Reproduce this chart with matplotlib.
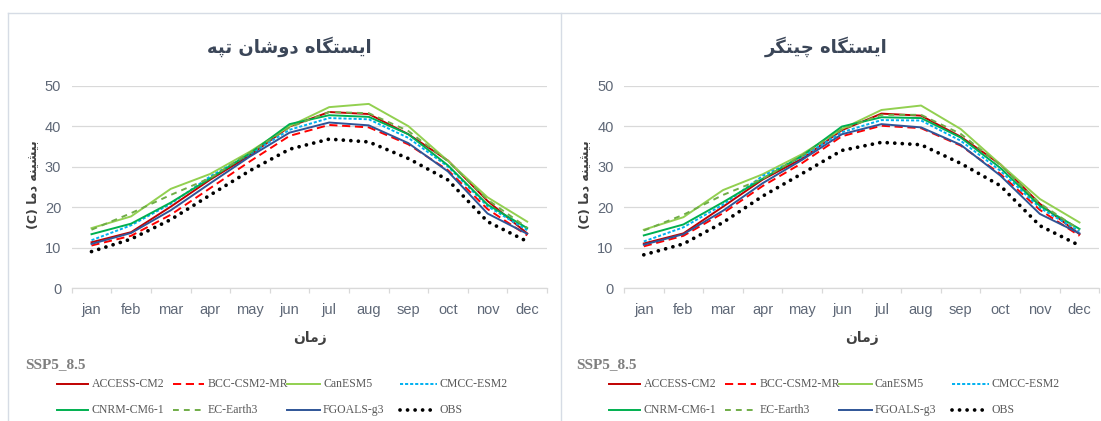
import matplotlib
matplotlib.use("Agg")
import matplotlib.pyplot as plt
from matplotlib.lines import Line2D
import numpy as np

# ---------------- data ----------------
months = ['jan', 'feb', 'mar', 'apr', 'may', 'jun', 'jul', 'aug', 'sep', 'oct', 'nov', 'dec']
models = ['ACCESS-CM2', 'BCC-CSM2-MR', 'CanESM5', 'CMCC-ESM2',
          'CNRM-CM6-1', 'EC-Earth3', 'FGOALS-g3', 'OBS']
yticks = [0, 10, 20, 30, 40, 50]

title_left = 'ایستگاه دوشان تپه'
title_right = 'ایستگاه چیتگر'
ylabel_text = 'بیشینه دما (C)'
xlabel_text = 'زمان'
scenario = 'SSP5_8.5'

# Station: Dushan Tappeh
dushan_access = [11.3, 13.8, 20.1, 26.8, 32.8, 39.9, 43.5, 43.0, 38.0, 31.5, 21.5, 13.5]
dushan_bcc    = [10.5, 12.9, 18.1, 24.7, 31.3, 37.6, 40.3, 39.7, 35.5, 29.1, 19.5, 13.0]
dushan_can    = [14.8, 17.7, 24.5, 28.2, 33.7, 40.0, 44.7, 45.5, 40.0, 31.4, 22.4, 16.4]
dushan_cmcc   = [11.8, 15.5, 20.8, 27.6, 33.1, 39.1, 42.0, 41.7, 37.1, 30.0, 20.2, 14.3]
dushan_cnrm   = [13.3, 15.9, 21.1, 27.1, 33.3, 40.5, 42.7, 42.3, 38.0, 30.3, 20.6, 14.8]
dushan_ec     = [14.4, 18.5, 23.0, 27.2, 33.5, 39.7, 43.5, 43.2, 38.8, 31.3, 21.8, 14.9]
dushan_fgoals = [10.9, 13.6, 19.2, 25.9, 32.5, 38.4, 40.9, 40.2, 35.8, 28.8, 18.4, 13.4]
dushan_obs    = [9.0, 12.1, 16.9, 23.0, 29.0, 34.3, 36.8, 36.1, 32.0, 26.7, 16.4, 11.5]

# Station: Chitgar
chitgar_access = [11.0, 13.5, 20.1, 26.8, 32.0, 39.0, 43.1, 42.6, 37.4, 30.6, 20.8, 13.3]
chitgar_bcc    = [10.3, 12.9, 18.5, 25.2, 30.9, 37.5, 40.1, 39.5, 35.2, 28.2, 19.3, 12.9]
chitgar_can    = [14.4, 17.5, 24.2, 28.1, 33.1, 39.3, 44.0, 45.1, 39.3, 30.6, 22.0, 16.2]
chitgar_cmcc   = [11.5, 15.0, 20.6, 27.7, 32.4, 38.5, 41.5, 41.4, 36.4, 29.0, 19.8, 14.0]
chitgar_cnrm   = [13.0, 15.7, 21.2, 27.0, 32.7, 39.9, 42.2, 42.0, 37.2, 29.7, 20.3, 14.6]
chitgar_ec     = [14.2, 18.1, 23.0, 27.0, 32.8, 39.2, 42.8, 42.8, 38.1, 30.4, 20.9, 14.4]
chitgar_fgoals = [10.7, 13.3, 19.1, 25.9, 31.7, 38.0, 40.5, 39.7, 35.4, 27.8, 18.3, 13.5]
chitgar_obs    = [8.2, 10.9, 16.2, 22.7, 28.3, 34.0, 36.0, 35.4, 30.8, 25.3, 15.4, 10.5]

# ---------------- styles ----------------
styles = {
    'ACCESS-CM2':  dict(color='#C00000', lw=1.4, ls='-'),
    'BCC-CSM2-MR': dict(color='#FF0000', lw=1.4, ls=(0, (4.2, 2.4))),
    'CanESM5':     dict(color='#92D050', lw=1.4, ls='-'),
    'CMCC-ESM2':   dict(color='#00B0F0', lw=1.4, ls=(0, (1.6, 1.0))),
    'CNRM-CM6-1':  dict(color='#00B050', lw=1.4, ls='-'),
    'EC-Earth3':   dict(color='#70AD47', lw=1.4, ls=(0, (3.0, 2.6))),
    'FGOALS-g3':   dict(color='#2F5597', lw=1.4, ls='-'),
    'OBS':         dict(color='black', lw=2.7, ls=(0, (0.01, 2.0))),
}

# ---------------- Arabic shaping (presentation forms) ----------------
AR = {
    'ا': ('\uFE8D', '\uFE8E', None, None),
    'د': ('\uFEA9', '\uFEAA', None, None),
    'ر': ('\uFEAD', '\uFEAE', None, None),
    'ز': ('\uFEAF', '\uFEB0', None, None),
    'و': ('\uFEED', '\uFEEE', None, None),
    'ب': ('\uFE8F', '\uFE90', '\uFE91', '\uFE92'),
    'ت': ('\uFE95', '\uFE96', '\uFE97', '\uFE98'),
    'س': ('\uFEB1', '\uFEB2', '\uFEB3', '\uFEB4'),
    'ش': ('\uFEB5', '\uFEB6', '\uFEB7', '\uFEB8'),
    'م': ('\uFEE1', '\uFEE2', '\uFEE3', '\uFEE4'),
    'ن': ('\uFEE5', '\uFEE6', '\uFEE7', '\uFEE8'),
    'ه': ('\uFEE9', '\uFEEA', '\uFEEB', '\uFEEC'),
    'ی': ('\uFBFC', '\uFBFD', '\uFBFE', '\uFBFF'),
    'پ': ('\uFB56', '\uFB57', '\uFB58', '\uFB59'),
    'چ': ('\uFB7A', '\uFB7B', '\uFB7C', '\uFB7D'),
    'گ': ('\uFB92', '\uFB93', '\uFB94', '\uFB95'),
}


def shape(s):
    def dual(c):
        return c in AR and AR[c][2] is not None
    out = []
    for i, c in enumerate(s):
        if c not in AR:
            out.append(c)
            continue
        prev = s[i - 1] if i > 0 else ''
        nxt = s[i + 1] if i + 1 < len(s) else ''
        pc = dual(prev)
        nc = dual(c) and (nxt in AR)
        iso, fin, ini, med = AR[c]
        if pc and nc:
            out.append(med)
        elif pc:
            out.append(fin)
        elif nc:
            out.append(ini)
        else:
            out.append(iso)
    vis = ''.join(reversed(out))
    return vis.translate(str.maketrans('()', ')('))


# ---------------- figure ----------------
W, H = 1101, 421
fig = plt.figure(figsize=(W / 100, H / 100), dpi=100)
fig.patch.set_facecolor('white')


def fx(x):
    return x / W


def fy(y):
    return 1 - y / H


NARROW = ['Liberation Sans Narrow', 'Liberation Sans', 'DejaVu Sans']
SERIF = ['Liberation Serif', 'DejaVu Serif']
ARFONT = ['DejaVu Sans']
TICKC = '#5f6877'
GRIDC = '#d9d9d9'
TITLEC = '#3b4658'

# panel borders
bc = '#d6dce5'
fig.add_artist(Line2D([fx(8.3), 1], [fy(12.7), fy(12.7)], color=bc, lw=1.0, transform=fig.transFigure))
fig.add_artist(Line2D([fx(8.3), fx(8.3)], [fy(12.7), 0], color=bc, lw=1.0, transform=fig.transFigure))
fig.add_artist(Line2D([fx(560.7), fx(560.7)], [fy(12.7), 0], color=bc, lw=1.0, transform=fig.transFigure))

panels = [
    dict(x0=71.7, title=title_left, tx=289.7, ylx=33, xlx=310,
         data=[dushan_access, dushan_bcc, dushan_can, dushan_cmcc,
               dushan_cnrm, dushan_ec, dushan_fgoals, dushan_obs], off=0.0),
    dict(x0=624.0, title=title_right, tx=826.6, ylx=585, xlx=861.7,
         data=[chitgar_access, chitgar_bcc, chitgar_can, chitgar_cmcc,
               chitgar_cnrm, chitgar_ec, chitgar_fgoals, chitgar_obs], off=551.5),
]

y_top, y_bot = 85.7, 288.0
aw = 475.3
x = np.arange(len(months))

for p in panels:
    ax = fig.add_axes([fx(p['x0']), fy(y_bot), aw / W, (y_bot - y_top) / H])
    for name, vals in zip(models, p['data']):
        st = styles[name]
        ln, = ax.plot(x, vals, color=st['color'], lw=st['lw'], linestyle=st['ls'],
                      solid_joinstyle='round', clip_on=False)
        if name == 'OBS':
            ln.set_dash_capstyle('round')
    ax.set_xlim(-0.5, len(months) - 0.5)
    ax.set_ylim(0, 50)
    ax.set_yticks(yticks)
    ax.set_yticklabels([str(v) for v in yticks], fontfamily=NARROW, fontsize=10.5, color=TICKC)
    ax.set_xticks(x)
    ax.set_xticklabels(months, fontfamily=NARROW, fontsize=10.5, color=TICKC)
    ax.set_xticks(np.arange(-0.5, len(months)), minor=True)
    ax.tick_params(axis='x', which='major', length=0, pad=10.5)
    ax.tick_params(axis='x', which='minor', length=3.5, color=GRIDC, width=0.9)
    ax.tick_params(axis='y', length=0, pad=7.5)
    ax.grid(axis='y', color=GRIDC, lw=0.9)
    ax.set_axisbelow(True)
    for s in ['top', 'right', 'left']:
        ax.spines[s].set_visible(False)
    ax.spines['bottom'].set_color(GRIDC)
    ax.spines['bottom'].set_linewidth(0.9)

    fig.text(fx(p['tx']), fy(47), shape(p['title']), ha='center', va='center',
             fontfamily=ARFONT, fontweight='bold', fontsize=13, color=TITLEC)
    fig.text(fx(p['ylx']), fy(185), shape(ylabel_text), ha='center', va='center', rotation=90,
             fontfamily=ARFONT, fontweight='bold', fontsize=9, color='#404040')
    fig.text(fx(p['xlx']), fy(338), shape(xlabel_text), ha='center', va='center',
             fontfamily=ARFONT, fontweight='bold', fontsize=10, color='#404040')

    off = p['off']
    fig.text(fx(25 + off), fy(365), scenario, ha='left', va='center',
             fontfamily=SERIF, fontweight='bold', fontsize=11, color='#7f7f7f')

    cols = [(57, 88, 92), (173, 204, 208), (287, 320, 323), (400, 437, 440)]
    rows = [384.3, 410.0]
    for i, name in enumerate(models):
        r, c = divmod(i, 4)
        x0, x1, xt = cols[c]
        yy = rows[r]
        st = styles[name]
        ln = Line2D([fx(x0 + off), fx(x1 + off)], [fy(yy), fy(yy)], color=st['color'],
                    lw=st['lw'], linestyle=st['ls'], transform=fig.transFigure)
        if name == 'OBS':
            ln.set_dash_capstyle('round')
        fig.add_artist(ln)
        fig.text(fx(xt + off), fy(yy), name, ha='left', va='center',
                 fontfamily=SERIF, fontsize=8.5, color='#595959')

fig.savefig('out.png', dpi=100, facecolor='white')
